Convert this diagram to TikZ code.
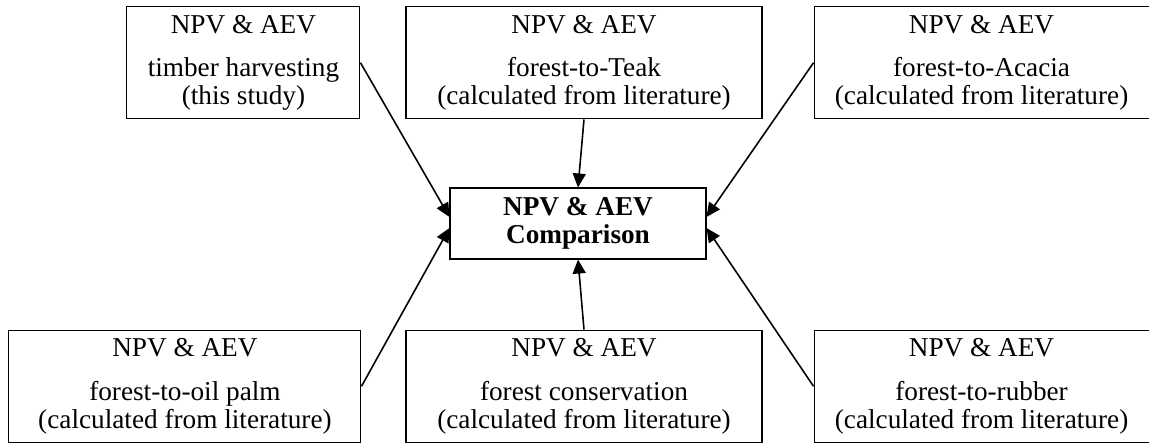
\documentclass[tikz,border=0pt]{standalone}
\usepackage{fontspec}
\setmainfont{Liberation Serif}
\usepackage{tikz}
\usetikzlibrary{arrows.meta, positioning}

\begin{document}
\begin{tikzpicture}[
      node distance=0cm,
      every node/.style={font=\fontsize{15.5}{15.8}\selectfont},
      box/.style={
        rectangle, draw=black, line width=0.6pt,
        align=center, inner sep=0pt,
        minimum height=2.25cm
      },
      cmpbox/.style={
        box, minimum width=5.12cm, minimum height=1.42cm,
        font=\fontsize{15.5}{15.8}\selectfont\bfseries
      },
      arr/.style={-{Triangle[length=0.28cm, width=0.26cm]}, line width=0.9pt, color=black}
    ]
      \useasboundingbox (0,0) rectangle (22.98,-8.88);
      \node[cmpbox] (cmp) at (11.56,-4.47) {NPV \& AEV\\Comparison};
      \node[box, minimum width=7.12cm, above=1.36cm of cmp, xshift=0.12cm] (teak) {
        NPV \& AEV\\[9pt]
        forest-to-Teak\\
        (calculated from literature)
      };
      \node[box, minimum width=4.66cm, left=0.9cm of teak] (harv) {
        NPV \& AEV\\[9pt]
        timber harvesting\\
        (this study)
      };
      \node[box, minimum width=6.70cm, right=1.02cm of teak] (acac) {
        NPV \& AEV\\[9pt]
        forest-to-Acacia\\
        (calculated from literature)
      };
      \node[box, minimum width=7.12cm, below=1.40cm of cmp, xshift=0.12cm] (cons) {
        NPV \& AEV\\[9pt]
        forest conservation\\
        (calculated from literature)
      };
      \node[box, minimum width=7.04cm, left=0.88cm of cons] (palm) {
        NPV \& AEV\\[9pt]
        forest-to-oil palm\\
        (calculated from literature)
      };
      \node[box, minimum width=6.70cm, right=1.02cm of cons] (rubb) {
        NPV \& AEV\\[9pt]
        forest-to-rubber\\
        (calculated from literature)
      };
      \draw[arr] (harv.east) -- ([yshift=0.13cm]cmp.west);
      \draw[arr] (teak.south) -- (cmp.north);
      \draw[arr] (acac.west) -- ([yshift=0.13cm]cmp.east);
      \draw[arr] (palm.east) -- ([yshift=-0.09cm]cmp.west);
      \draw[arr] (cons.north) -- (cmp.south);
      \draw[arr] (rubb.west) -- ([yshift=-0.09cm]cmp.east);
    \end{tikzpicture}
\end{document}
